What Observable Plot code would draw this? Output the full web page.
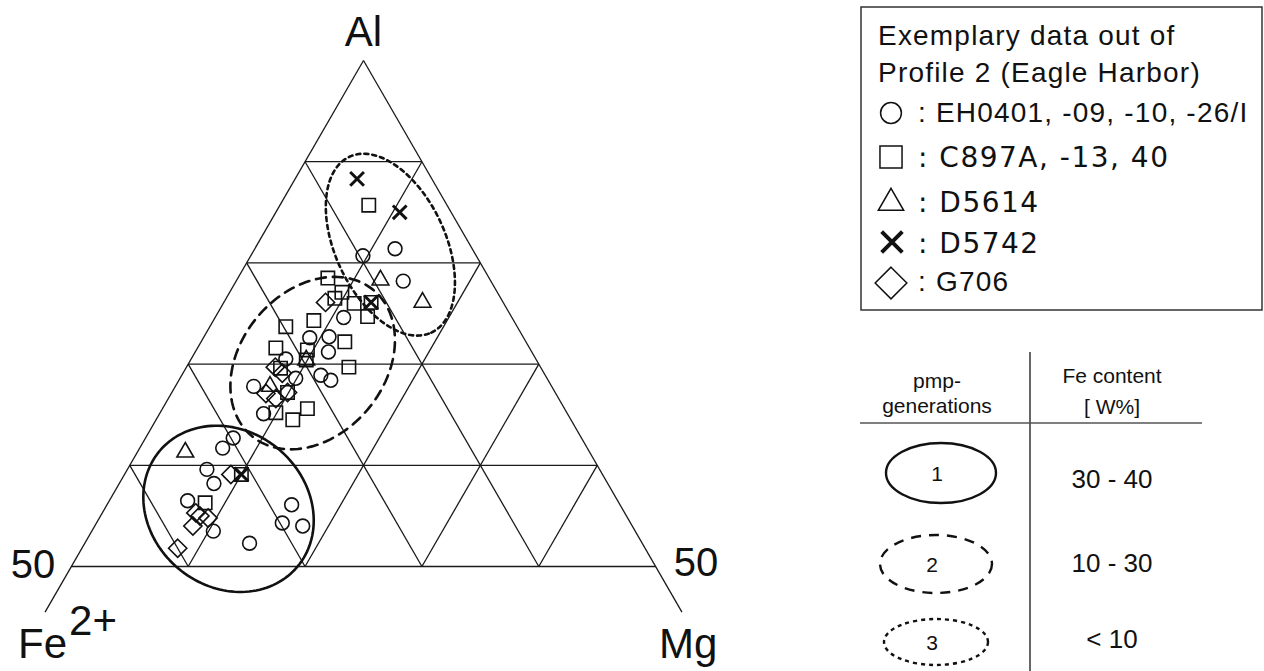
<!DOCTYPE html>
<html><head><meta charset="utf-8">
<script src="https://cdn.jsdelivr.net/npm/d3@7"></script>
<script src="https://cdn.jsdelivr.net/npm/@observablehq/plot@0.6"></script>
<style>
body{margin:0;background:#fff;}
#wrap{position:relative;width:1264px;height:671px;overflow:hidden;background:#fff;}
#chart{position:absolute;left:0;top:0;}
#legend{position:absolute;left:0;top:0;}
</style></head><body>
<div id="wrap"><div id="chart"></div><svg id="legend" width="1264" height="671"></svg></div>
<script>
// ---------- data: [Al, Fe2+, Mg] in % (Al >= 50 half of the ternary) ----------
const circlesEH0401 = [
  [81.4,6.6,12.0],[80.7,9.7,9.6],[78.2,7.5,14.3],[74.6,14.4,11.0],[72.6,18.3,9.1],
  [72.7,16.6,10.7],[71.2,17.4,11.4],[70.5,21.4,8.1],[68.9,19.2,11.9],[68.4,18.6,13.0],
  [68.6,21.5,9.9],[67.8,25.5,6.7],[65.1,26.0,8.9],[62.7,29.8,7.5],[61.7,31.2,7.1],
  [59.6,33.6,6.8],[58.2,33.7,8.1],[56.5,36.8,6.7],[53.5,36.1,10.4],[56.1,28.1,15.8],
  [54.3,29.8,15.9],[54.0,28.2,17.8],[52.3,33.6,14.1]
];
const squaresC897A = [
  [85.7,6.7,7.6],[78.5,13.8,7.7],[77.1,13.3,9.6],[76.5,14.2,9.3],[76.0,12.8,11.2],
  [76.1,11.3,12.6],[74.7,12.3,13.0],[73.7,19.8,6.5],[74.3,17.1,8.6],[72.2,15.5,12.3],
  [71.6,21.7,6.7],[71.4,19.1,9.5],[70.4,19.7,9.9],[69.7,16.4,13.9],[69.6,22.3,8.1],
  [67.2,22.9,9.9],[65.2,24.9,9.9],[65.6,22.0,12.4],[64.5,23.8,11.7],[59.1,30.9,10.0],
  [56.3,35.4,8.3]
];
const trianglesD5614 = [[78.3,9.4,12.3],[76.1,6.9,17.0],[70.4,19.7,9.9],[67.8,24.1,8.1],[61.3,34.6,4.1]];
const crossesD5742 = [[88.3,6.4,5.3],[85.0,4.4,10.6],[76.1,11.3,12.6],[59.1,30.9,10.0]];
const diamondsG706 = [
  [76.1,15.2,8.7],[69.7,22.7,7.6],[69.1,22.4,8.5],[67.1,24.8,8.1],[67.2,22.9,9.9],
  [66.6,24.2,9.2],[59.1,31.8,9.1],[55.3,36.7,8.0],[55.0,36.5,8.5],[54.8,35.9,9.3],
  [54.0,37.6,8.4],[51.8,40.0,8.2]
];
// pmp generation fields: centre [Al,Fe,Mg], semi-axes (ternary units), rotation (deg)
const genIds = [1, 2, 3];
const genCentres = [[55.7,33.7,10.6],[70.1,19.3,10.6],[81.8,6.8,11.4]];
const genAxes = [[7.70,6.67],[8.13,6.16],[8.30,4.71]];
const genAngles = [-40, 50, -65];
const genFe = ["30 - 40", "10 - 30", "< 10"];
// grid levels
const alLevels = [90, 80, 70, 60, 50];
const feMgLevels = [10, 20, 30, 40];
const sideEndAl = 45.5;
// legend texts
const legendTitle = ["Exemplary data out of", "Profile 2 (Eagle Harbor)"];
const legendLabels = [": EH0401, -09, -10, -26/I", ": C897A, -13, 40", ": D5614", ": D5742", ": G706"];

// ---------- ternary -> cartesian ----------
const S3 = Math.sqrt(3) / 2;
const tx = d => d[2] + d[0] / 2;
const ty = d => d[0] * S3;

const segs = [];
for (const a of alLevels) segs.push([[a, 100 - a, 0], [a, 0, 100 - a]]);
for (const k of feMgLevels) {
  segs.push([[100 - k, k, 0], [50, k, 50 - k]]);
  segs.push([[100 - k, 0, k], [50, 50 - k, k]]);
}
segs.push([[100, 0, 0], [sideEndAl, 100 - sideEndAl, 0]]);
segs.push([[100, 0, 0], [sideEndAl, 0, 100 - sideEndAl]]);

function ellipsePts(i) {
  const c = genCentres[i], [a, b] = genAxes[i], phi = genAngles[i] * Math.PI / 180;
  const x0 = tx(c), y0 = ty(c);
  return d3.range(0, 144).map(j => {
    const t = j / 144 * 2 * Math.PI;
    return {gen: genIds[i],
      x: x0 + a * Math.cos(t) * Math.cos(phi) - b * Math.sin(t) * Math.sin(phi),
      y: y0 + a * Math.cos(t) * Math.sin(phi) + b * Math.sin(t) * Math.cos(phi)};
  });
}

// ---------- layout ----------
const W = 1264, H = 671, APEX = [363, 60], PXU = 11.686;
const xDomain = [50 - APEX[0] / PXU, 50 + (W - APEX[0]) / PXU];
const yTop = 100 * S3 + APEX[1] / PXU;
const yDomain = [yTop - H / PXU, yTop];
const FONT = "'Liberation Sans', Arial, Helvetica, sans-serif";
const INK = "#111";

const vAl = [[100, 0, 0]], vFe = [[sideEndAl, 100 - sideEndAl, 0]], vMg = [[sideEndAl, 0, 100 - sideEndAl]];
const v50Fe = [[50, 50, 0]], v50Mg = [[50, 0, 50]];

const dotOpts = {x: tx, y: ty, fill: "none", stroke: INK, strokeWidth: 1.6};
const txt = (data, text, o) => Plot.text(data, {x: tx, y: ty, text: () => text, fill: INK, lineAnchor: "bottom", fontFamily: FONT, ...o});

const chart = Plot.plot({
  width: W, height: H, margin: 0,
  x: {domain: xDomain, axis: null},
  y: {domain: yDomain, axis: null},
  style: {fontFamily: FONT, background: "transparent", overflow: "visible"},
  marks: [
    Plot.link(segs, {x1: d => tx(d[0]), y1: d => ty(d[0]), x2: d => tx(d[1]), y2: d => ty(d[1]), stroke: "#1a1a1a", strokeWidth: 1.3}),
    Plot.line(ellipsePts(0), {x: "x", y: "y", curve: "linear-closed", stroke: INK, strokeWidth: 2.6}),
    Plot.line(ellipsePts(1), {x: "x", y: "y", curve: "linear-closed", stroke: INK, strokeWidth: 2.6, strokeDasharray: "10,7"}),
    Plot.line(ellipsePts(2), {x: "x", y: "y", curve: "linear-closed", stroke: INK, strokeWidth: 2.6, strokeDasharray: "4,4"}),
    Plot.dot(circlesEH0401, {...dotOpts, symbol: "circle", r: 6.9}),
    Plot.dot(squaresC897A, {...dotOpts, symbol: "square2", r: 8.5}),
    Plot.dot(trianglesD5614, {...dotOpts, symbol: "triangle2", r: 8.0}),
    Plot.dot(diamondsG706, {...dotOpts, symbol: "diamond2", r: 8.2}),
    Plot.dot(crossesD5742, {...dotOpts, symbol: "times", r: 6.3, strokeWidth: 3}),
    txt(vAl, "Al", {fontSize: 42, dy: -15}),
    txt(v50Fe, "50", {fontSize: 40, textAnchor: "end", dx: -16, dy: 11}),
    txt(v50Mg, "50", {fontSize: 40, textAnchor: "start", dx: 18, dy: 9}),
    txt(vFe, "Fe", {fontSize: 42, textAnchor: "start", dx: -27, dy: 46}),
    txt(vFe, "2+", {fontSize: 42, textAnchor: "start", dx: 24, dy: 23}),
    txt(vMg, "Mg", {fontSize: 42, textAnchor: "start", dx: -23, dy: 46})
  ]
});
document.getElementById("chart").appendChild(chart);

// ---------- legend & generations table ----------
const L = d3.select("#legend");
L.append("rect").attr("x", 861).attr("y", 7).attr("width", 401).attr("height", 303)
  .attr("fill", "#fff").attr("stroke", "#333").attr("stroke-width", 1.5);
legendTitle.forEach((t, i) => L.append("text").attr("x", 878).attr("y", 45 + i * 37)
  .attr("font-family", FONT).attr("font-size", 28).attr("letter-spacing", 1.2).attr("fill", INK).text(t));
const symKinds = [d3.symbolCircle, d3.symbolSquare2, d3.symbolTriangle2, d3.symbolTimes, d3.symbolDiamond2];
const symSizes = [340, 620, 460, 280, 640];
const symY = [113, 157, 203, 242, 283];
const labY = [122, 167, 212, 253, 291];
const labFont = [FONT, "'DejaVu Sans', Verdana, sans-serif", "'DejaVu Sans', Verdana, sans-serif", "'DejaVu Sans', Verdana, sans-serif", FONT];
const labSpacing = [1.2, 1.5, 1.5, 1.5, 1.2];
legendLabels.forEach((t, i) => {
  L.append("path").attr("transform", `translate(${i === 3 ? 892 : 891},${symY[i]})`)
    .attr("d", d3.symbol(symKinds[i], symSizes[i])())
    .attr("fill", "none").attr("stroke", INK).attr("stroke-width", i === 3 ? 4 : 1.5);
  L.append("text").attr("x", 918).attr("y", labY[i]).attr("font-family", labFont[i])
    .attr("font-size", 28).attr("letter-spacing", labSpacing[i]).attr("fill", INK).text(t);
});

// table
L.append("line").attr("x1", 1030).attr("x2", 1030).attr("y1", 352).attr("y2", 671).attr("stroke", "#333").attr("stroke-width", 1.5);
L.append("line").attr("x1", 860).attr("x2", 1202).attr("y1", 423).attr("y2", 423).attr("stroke", "#555").attr("stroke-width", 1.5);
const hdr = [["pmp-", 937, 388], ["generations", 937, 413], ["Fe content", 1112, 383], ["[ W%]", 1112, 414]];
hdr.forEach(([t, x, y]) => L.append("text").attr("x", x).attr("y", y).attr("text-anchor", "middle")
  .attr("font-family", FONT).attr("font-size", 21).attr("fill", INK).text(t));
const ellC = [[941, 473, 55, 30], [936, 564, 56, 29], [936, 642, 52, 23]];
const ellDash = [null, "10,8", "4,4"];
genIds.forEach((g, i) => {
  const [cx, cy, rx, ry] = ellC[i];
  L.append("ellipse").attr("cx", cx).attr("cy", cy).attr("rx", rx).attr("ry", ry)
    .attr("fill", "none").attr("stroke", INK).attr("stroke-width", 2.4)
    .attr("stroke-dasharray", ellDash[i]);
  L.append("text").attr("x", cx - 4).attr("y", cy + 8).attr("text-anchor", "middle")
    .attr("font-family", FONT).attr("font-size", 21).attr("fill", INK).text(g);
  L.append("text").attr("x", 1112).attr("y", [488, 572, 648][i]).attr("text-anchor", "middle")
    .attr("font-family", FONT).attr("font-size", 26).attr("fill", INK).text(genFe[i]);
});
</script></body></html>
